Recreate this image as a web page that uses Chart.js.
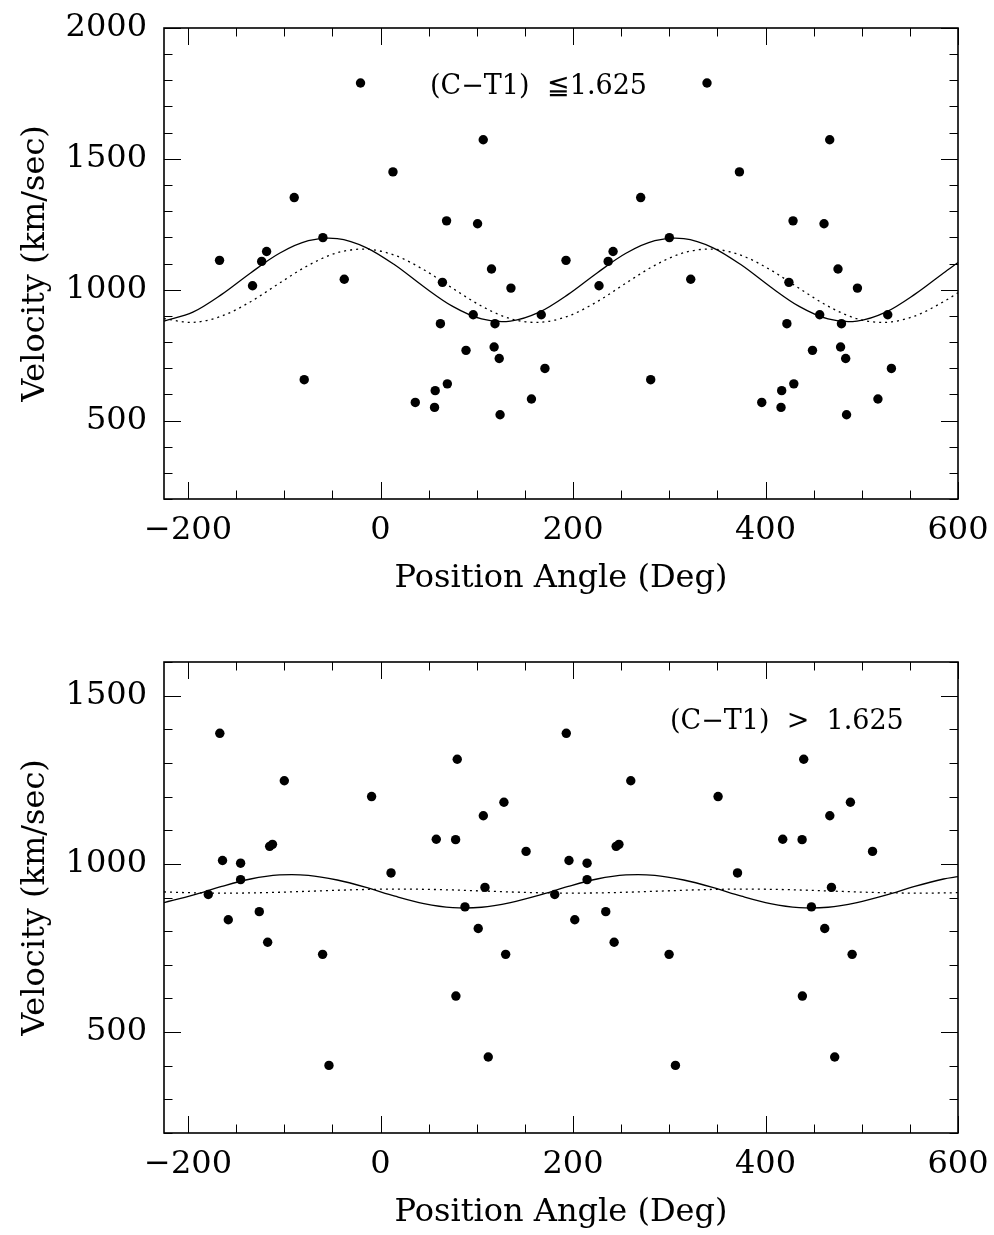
<!DOCTYPE html>
<html><head><meta charset="utf-8">
<script src="https://cdn.jsdelivr.net/npm/chart.js@4.4.1/dist/chart.umd.min.js"></script>
<style>
html,body{margin:0;padding:0;background:#fff;width:994px;height:1235px;overflow:hidden;position:relative;}
canvas{position:absolute;left:0;}
#c1{top:0}
#c2{top:634px}
</style></head><body>
<canvas id="c1" width="994" height="617"></canvas>
<canvas id="c2" width="994" height="617"></canvas>
<script>
// ---- Data ----
const xTickLabels = [-200, 0, 200, 400, 600];
const yTopTickLabels = [500, 1000, 1500, 2000];
const yBottomTickLabels = [500, 1000, 1500];

// Top panel: (C-T1) <= 1.625
const topAngle = [
  -167.3,-123.5,-118.4,-89.7,-59.9,-20.8,-133,-37.7,-79.3,
  192.7,236.5,241.6,270.3,300.1,339.2,227,322.3,280.7,
  12.9,68.6,100.8,106.7,115.3,135.5,64.3,96.3,62.2,118.9,167,88.8,118,123.3,170.8,69.4,56.8,36.1,56.1,156.8,124.2,
  372.9,428.6,460.8,466.7,475.3,495.5,424.3,456.3,422.2,478.9,527,448.8,478,483.3,530.8,429.4,416.8,396.1,416.1,516.8,484.2
];
const topVelocity = [
  1112,1108,1146,1352,1199,1790,1015,1040,656,
  1112,1108,1146,1352,1199,1790,1015,1040,656,
  1450,1263,1252,1573,1079,1006,1028,904,870,870,904,768,781,737,699,640,614,569,550,582,522,
  1450,1263,1252,1573,1079,1006,1028,904,870,870,904,768,781,737,699,640,614,569,550,582,522
];

// Bottom panel: (C-T1) > 1.625
const bottomAngle = [
  -179,-167,-164.2,-158.2,-145.4,-145.4,-126,-117.3,-115.2,-112.3,-100,-60.2,-53.6,-9.3,
  181,193,195.8,201.8,214.6,214.6,234,242.7,244.8,247.7,260,299.8,306.4,350.7,
  10.9,57.9,78,79.7,78.3,87.7,101.5,106.8,108.5,111.9,128.2,130,151.2,
  370.9,417.9,438,439.7,438.3,447.7,461.5,466.8,468.5,471.9,488.2,490,511.2
];
const bottomVelocity = [
  909,1388,1010,834,1002,953,858,767,1052,1058,1247,731,401,1200,
  909,1388,1010,834,1002,953,858,767,1052,1058,1247,731,401,1200,
  973,1073,1072,1311,607,872,808,1143,930,426,1183,731,1037,
  973,1073,1072,1311,607,872,808,1143,930,426,1183,731,1037
];

// Fitted curves, read at these angles
const curveAngle = [-225,-195,-165,-135,-105,-75,-45,-15,15,45,75,105,135,165,195,225,255,285,315,345,375,405,435,465,495,525,555,585,600];
const topSolid = [880,914,982,1064,1139,1187,1195,1161,1094,1011,936,888,880,914,982,1064,1139,1187,1195,1161,1094,1011,936,888,880,914,982,1064,1104];
const topDotted = [889,875,899,954,1025,1093,1141,1155,1131,1076,1005,937,889,875,899,954,1025,1093,1141,1155,1131,1076,1005,937,889,875,899,954,988];
const bottomSolid = [885,907,933,955,967,966,952,930,904,882,870,871,885,907,933,955,967,966,952,930,904,882,870,871,885,907,933,955,962];
const bottomDotted = [916.5,914.1,913,913.6,915.6,918.5,921.5,923.9,925,924.4,922.4,919.5,916.5,914.1,913,913.6,915.6,918.5,921.5,923.9,925,924.4,922.4,919.5,916.5,914.1,913,913.6,914.4];

// ---- Rendering ----
const FONT = "'DejaVu Serif', 'Liberation Serif', serif";

const framePlugin = {
  id: 'frame',
  afterDatasetsDraw(chart, args, opts) {
    const {ctx, chartArea: a, scales: {x, y}} = chart;
    ctx.save();
    ctx.strokeStyle = '#000';
    ctx.lineWidth = 1;
    const maj = 17, min = 8.5;
    for (let v = -200; v <= 600; v += 50) {
      const px = Math.round(x.getPixelForValue(v)) + 0.5;
      const L = (v % 200 === 0) ? maj : min;
      ctx.beginPath();
      ctx.moveTo(px, a.bottom); ctx.lineTo(px, a.bottom - L);
      ctx.moveTo(px, a.top); ctx.lineTo(px, a.top + L);
      ctx.stroke();
    }
    for (let v = Math.ceil(y.min / 100) * 100; v <= y.max; v += 100) {
      const py = Math.round(y.getPixelForValue(v)) + 0.5;
      const L = (v % 500 === 0) ? maj : min;
      ctx.beginPath();
      ctx.moveTo(a.left, py); ctx.lineTo(a.left + L, py);
      ctx.moveTo(a.right, py); ctx.lineTo(a.right - L, py);
      ctx.stroke();
    }
    ctx.lineWidth = 1.6;
    ctx.strokeRect(a.left, a.top, a.right - a.left, a.bottom - a.top);
    // annotation
    ctx.fillStyle = '#000';
    ctx.font = '27px ' + FONT;
    ctx.textBaseline = 'middle';
    ctx.textAlign = 'left';
    ctx.fillText(opts.text, opts.x, opts.y);
    ctx.restore();
  }
};

function makeChart(id, angles, vels, solid, dotted, yMin, yMax, yLabels, note) {
  return new Chart(document.getElementById(id), {
    type: 'scatter',
    data: {
      datasets: [
        {
          data: angles.map((a, i) => ({x: a, y: vels[i]})),
          pointRadius: 4.7, pointBackgroundColor: '#000', pointBorderWidth: 0,
          showLine: false, order: 0
        },
        {
          data: curveAngle.map((a, i) => ({x: a, y: solid[i]})),
          showLine: true, pointRadius: 0, borderColor: '#000', borderWidth: 1.3,
          tension: 0.33, fill: false, order: 1
        },
        {
          data: curveAngle.map((a, i) => ({x: a, y: dotted[i]})),
          showLine: true, pointRadius: 0, borderColor: '#000', borderWidth: 1.3,
          borderDash: [2, 4], tension: 0.33, fill: false, order: 2
        }
      ]
    },
    options: {
      responsive: false, animation: false, devicePixelRatio: 1,
      layout: {padding: {top: 28, right: 36, left: 0, bottom: 0}},
      plugins: {legend: {display: false}, tooltip: {enabled: false}, frame: note},
      scales: {
        x: {
          type: 'linear', min: -225, max: 600,
          afterBuildTicks: s => { s.ticks = xTickLabels.map(v => ({value: v})); },
          afterFit: s => { s.height = 118; s.paddingLeft = 0; s.paddingRight = 0; },
          grid: {display: false, drawTicks: false}, border: {display: false},
          ticks: {
            autoSkip: false, maxRotation: 0, padding: 12, color: '#000',
            font: {family: FONT, size: 32},
            callback: v => String(v).replace('-', '\u2212')
          },
          title: {
            display: true, text: 'Position Angle (Deg)', color: '#000',
            font: {family: FONT, size: 32}, padding: {top: 0, bottom: 19}
          }
        },
        y: {
          type: 'linear', min: yMin, max: yMax,
          afterBuildTicks: s => { s.ticks = yLabels.map(v => ({value: v})); },
          afterFit: s => { s.width = 164; s.paddingTop = 0; s.paddingBottom = 0; },
          grid: {display: false, drawTicks: false}, border: {display: false},
          ticks: {
            autoSkip: false, padding: 17, color: '#000',
            font: {family: FONT, size: 32},
            callback: v => String(v)
          },
          title: {
            display: true, text: 'Velocity (km/sec)', color: '#000',
            font: {family: FONT, size: 32}, padding: {top: 16, bottom: 0}
          }
        }
      }
    },
    plugins: [framePlugin]
  });
}

makeChart('c1', topAngle, topVelocity, topSolid, topDotted, 200, 2000, yTopTickLabels,
  {text: '(C\u2212T1)  \u22661.625', x: 430, y: 87});
makeChart('c2', bottomAngle, bottomVelocity, bottomSolid, bottomDotted, 200, 1600, yBottomTickLabels,
  {text: '(C\u2212T1)  >  1.625', x: 670, y: 88});
</script>
</body></html>
